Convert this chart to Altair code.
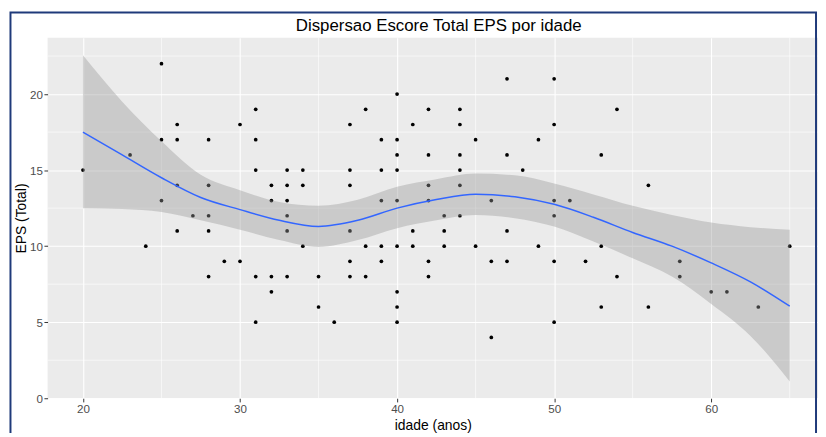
import altair as alt
import pandas as pd

# ---- scatter data (idade, EPS total) ----
idade = [20, 23, 24,
         25, 25, 25,
         26, 26, 26, 26,
         27,
         28, 28, 28, 28, 28,
         29,
         30, 30,
         31, 31, 31, 31, 31,
         32, 32, 32, 32,
         33, 33, 33, 33, 33, 33,
         34, 34, 34,
         35, 35,
         36,
         37, 37, 37, 37, 37, 37,
         38, 38, 38,
         39, 39, 39, 39, 39,
         40, 40, 40, 40, 40, 40, 40, 40, 40,
         41, 41, 41,
         42, 42, 42, 42, 42, 42,
         43, 43, 43,
         44, 44, 44, 44, 44, 44,
         45, 45,
         46, 46, 46,
         47, 47, 47, 47,
         48,
         49, 49,
         50, 50, 50, 50, 50, 50,
         51, 52,
         53, 53, 53,
         54, 54,
         56, 56,
         58, 58,
         60, 61, 63, 65]
eps = [15, 16, 10,
       22, 17, 13,
       18, 17, 14, 11,
       12,
       17, 14, 12, 11, 8,
       9,
       18, 9,
       19, 17, 15, 8, 5,
       14, 13, 8, 7,
       15, 14, 13, 12, 11, 8,
       15, 14, 10,
       8, 6,
       5,
       18, 15, 14, 11, 9, 8,
       19, 10, 8,
       17, 15, 13, 10, 9,
       20, 17, 16, 15, 13, 10, 7, 6, 5,
       18, 11, 10,
       19, 16, 14, 13, 9, 8,
       12, 11, 10,
       19, 18, 16, 15, 14, 12,
       17, 10,
       13, 9, 4,
       21, 16, 11, 9,
       15,
       17, 10,
       21, 18, 13, 12, 9, 5,
       13, 9,
       16, 10, 6,
       19, 8,
       14, 6,
       9, 8,
       7, 7, 6, 10]

# ---- smoothed curve and its confidence band ----
curve_x = [20, 22.5, 25, 27.5, 30, 32.5, 35, 37.5, 40, 42.5, 45,
           47.5, 50, 52.5, 55, 57.5, 60, 62.5, 65]
curve_fit = [17.5, 16.0, 14.5, 13.2, 12.4, 11.7, 11.3, 11.7, 12.5, 13.07, 13.42,
             13.25, 12.75, 11.9, 10.9, 10.0, 8.9, 7.65, 6.05]
curve_lo = [12.49, 12.45, 12.25, 11.7, 11.08, 10.4, 9.95, 10.4, 11.18, 11.7, 12.05,
            11.84, 11.29, 10.3, 9.2, 8.0, 6.2, 4.1, 1.1]
curve_hi = [22.55, 19.5, 16.9, 14.7, 13.68, 12.9, 12.65, 13.05, 13.9, 14.4, 14.77,
            14.66, 14.12, 13.4, 12.65, 12.05, 11.55, 11.25, 11.08]

x_major = [20, 30, 40, 50, 60]
x_minor = [25, 35, 45, 55, 65]
y_major = [0, 5, 10, 15, 20]
y_minor = [2.5, 7.5, 12.5, 17.5, 22.5]

titulo = "Dispersao Escore Total EPS por idade"
titulo_x = "idade (anos)"
titulo_y = "EPS (Total)"

pts = pd.DataFrame({"idade": idade, "eps": eps})
curve = pd.DataFrame({"x": curve_x, "fit": curve_fit, "lo": curve_lo, "hi": curve_hi})
gx = pd.DataFrame({"v": x_minor})
gy = pd.DataFrame({"v": y_minor})

FONT = "Liberation Sans"
xscale = alt.Scale(domain=[17.75, 66.8], nice=False, zero=False)
yscale = alt.Scale(domain=[0.0, 23.7], nice=False, zero=False)
xaxis = alt.Axis(values=x_major, title=titulo_x, titlePadding=4)
yaxis = alt.Axis(values=y_major, title=titulo_y, titlePadding=1)


def X(field):
    return alt.X(field, type="quantitative", scale=xscale, axis=xaxis)


def Y(field):
    return alt.Y(field, type="quantitative", scale=yscale, axis=yaxis)


grid_x = alt.Chart(gx).mark_rule(color="white", strokeWidth=0.6).encode(x=X("v"))
grid_y = alt.Chart(gy).mark_rule(color="white", strokeWidth=0.6).encode(y=Y("v"))

points = alt.Chart(pts).mark_circle(size=14, color="black", opacity=1).encode(
    x=X("idade"), y=Y("eps"))

band = alt.Chart(curve).mark_area(color="#999999", opacity=0.4, interpolate="monotone").encode(
    x=X("x"), y=Y("lo"), y2=alt.Y2("hi"))

line = alt.Chart(curve).mark_line(color="#3366FF", strokeWidth=1.5, interpolate="monotone").encode(
    x=X("x"), y=Y("fit"))

one = pd.DataFrame({"t": [titulo]})

frame = alt.Chart(one).mark_rect(
    filled=False, stroke="#1F3A7A", strokeWidth=2).encode(
    x=alt.value(-37.5), x2=alt.value(776), y=alt.value(-25.5), y2=alt.value(420))

title_mark = alt.Chart(one).mark_text(
    font=FONT, fontSize=17, color="black", align="center", baseline="alphabetic").encode(
    x=alt.value(395), y=alt.value(-7), text="t:N")

chart = alt.layer(grid_x, grid_y, points, band, line, frame, title_mark).properties(
    width=778, height=364,
    padding={"left": 40, "top": 28, "right": 0, "bottom": 33},
    autosize=alt.AutoSizeParams(type="none"),
    background="white",
).configure_view(
    fill="#EBEBEB", stroke=None
).configure_axis(
    grid=True, gridColor="white", gridWidth=1.1, domain=False,
    tickColor="#333333", tickSize=3.7, tickWidth=1,
    labelColor="#4D4D4D", labelFont=FONT, labelFontSize=11.7, labelPadding=1.5,
    titleFont=FONT, titleFontSize=14, titleFontWeight="normal", titleColor="black",
)

chart.save("out.html", embed_options={"renderer": "svg", "actions": False})
